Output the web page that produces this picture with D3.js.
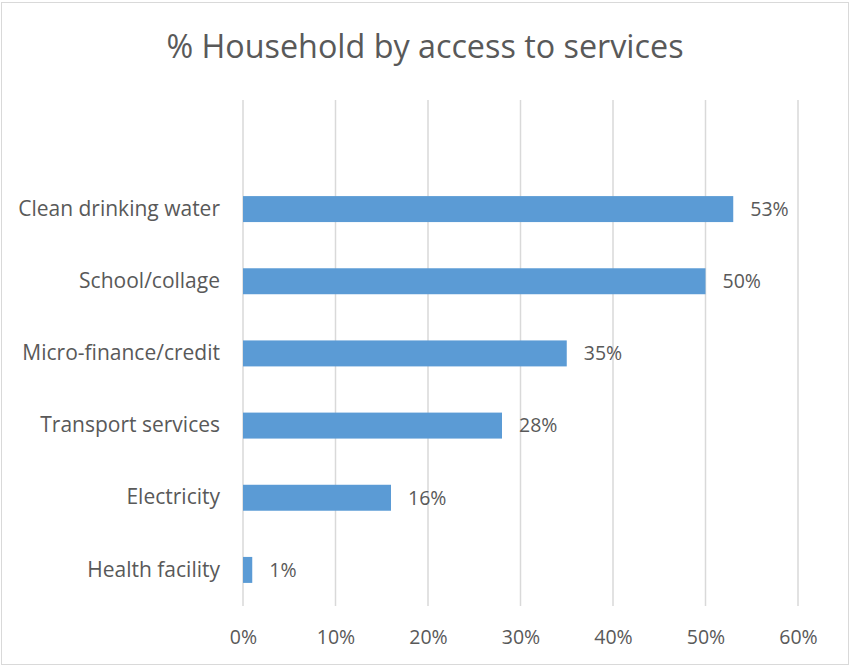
<!DOCTYPE html>
<html>
<head>
<meta charset="utf-8">
<script src="https://cdn.jsdelivr.net/npm/d3@7"></script>
<style>
  body { margin: 0; background: #fff; }
  text { font-family: "Open Sans", "Liberation Sans", sans-serif; fill: #595959; }
</style>
</head>
<body>
<svg id="chart"></svg>
<script>
// Data
const categories = ["Clean drinking water", "School/collage", "Micro-finance/credit",
                    "Transport services", "Electricity", "Health facility"];
const values = [53, 50, 35, 28, 16, 1];
const xTicks = [0, 10, 20, 30, 40, 50, 60];

const width = 851, height = 667;
const svg = d3.select("#chart").attr("width", width).attr("height", height);

// Chart border
svg.append("rect")
    .attr("x", 1.5).attr("y", 2.5)
    .attr("width", width - 4).attr("height", height - 5)
    .attr("fill", "#fff")
    .attr("stroke", "#d9d9d9");

// Scales
const xScale = d3.scaleLinear().domain([0, 60]).range([243, 798]);
const yScale = d3.scaleBand()
    .domain(categories)
    .range([173, 606])
    .paddingInner(0.64)
    .paddingOuter(0.32);

// Gridlines
svg.append("g")
    .selectAll("line")
    .data(xTicks)
    .enter().append("line")
    .attr("x1", d => xScale(d)).attr("x2", d => xScale(d))
    .attr("y1", 100).attr("y2", 606)
    .attr("stroke", "#d9d9d9")
    .attr("stroke-width", 1.5);

// Title
svg.append("text")
    .attr("x", 425).attr("y", 58)
    .attr("text-anchor", "middle")
    .style("font-size", "32.3px")
    .text("% Household by access to services");

// X axis
const xAxis = svg.append("g")
    .attr("transform", "translate(0,606)")
    .call(d3.axisBottom(xScale).tickValues(xTicks).tickFormat(d => d + "%").tickSize(0).tickPadding(24));
xAxis.select(".domain").remove();
xAxis.selectAll("text").style("font-size", "19.5px").attr("fill", "#595959");

// Y axis
const yAxis = svg.append("g")
    .attr("transform", "translate(243,0)")
    .call(d3.axisLeft(yScale).tickSize(0).tickPadding(23));
yAxis.select(".domain").remove();
yAxis.selectAll("text").style("font-size", "21px").attr("fill", "#595959");

// Bars
svg.selectAll(".bar")
    .data(values)
    .enter().append("rect")
    .attr("class", "bar")
    .attr("x", xScale(0))
    .attr("y", (d, i) => yScale(categories[i]))
    .attr("width", d => xScale(d) - xScale(0))
    .attr("height", yScale.bandwidth())
    .attr("fill", "#5b9bd5");

// Value labels
svg.selectAll(".label")
    .data(values)
    .enter().append("text")
    .attr("class", "label")
    .attr("x", d => xScale(d) + 17)
    .attr("y", (d, i) => yScale(categories[i]) + yScale.bandwidth() / 2)
    .attr("dy", "0.35em")
    .style("font-size", "19.5px")
    .text(d => d + "%");
</script>
</body>
</html>
